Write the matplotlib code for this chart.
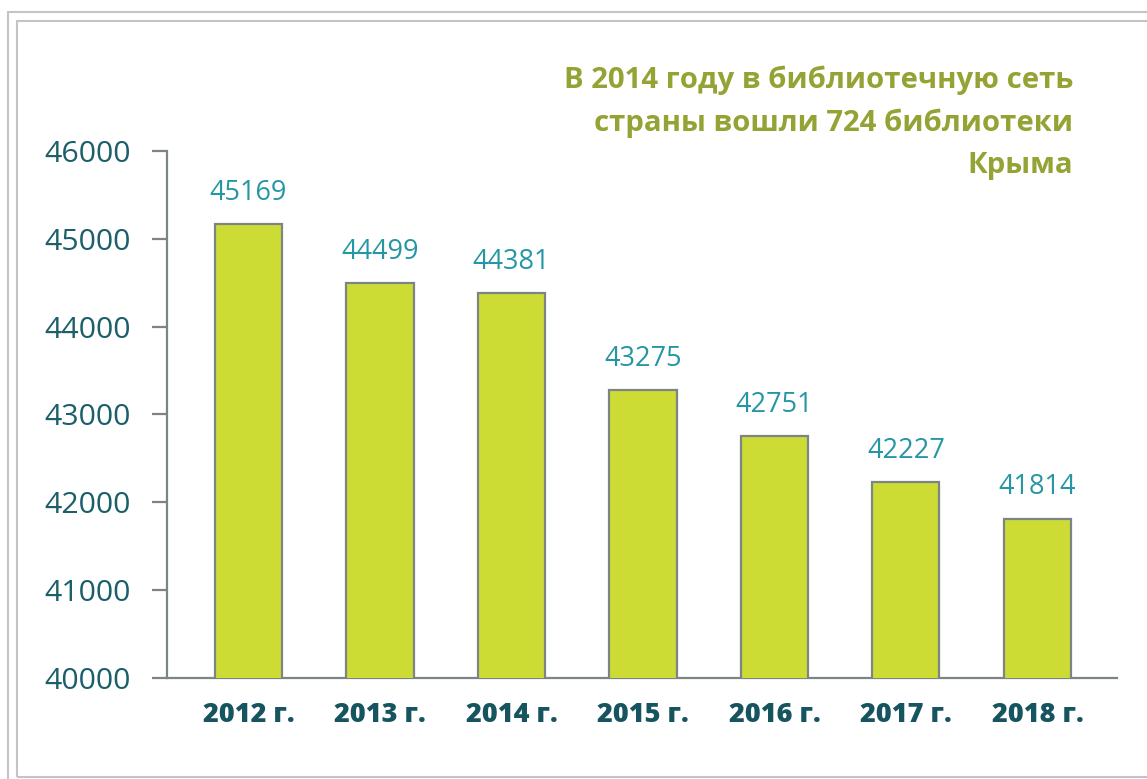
import matplotlib
matplotlib.use("Agg")
import matplotlib.pyplot as plt
from matplotlib.patches import Rectangle

categories = ["2012 г.", "2013 г.", "2014 г.", "2015 г.", "2016 г.", "2017 г.", "2018 г."]
values = [45169, 44499, 44381, 43275, 42751, 42227, 41814]
yticks = [40000, 41000, 42000, 43000, 44000, 45000, 46000]
title_text = "В 2014 году в библиотечную сеть\nстраны вошли 724 библиотеки\nКрыма"

plt.rcParams['font.family'] = ['Open Sans', 'DejaVu Sans']

W, H = 1147, 779
fig = plt.figure(figsize=(W / 100, H / 100), dpi=100)
fig.patch.set_facecolor("white")

# double frame
border_col = "#c2c4c6"
fig.patches.append(Rectangle((8 / W, -0.05), 1.2, 1 - 12 / H + 0.05, transform=fig.transFigure,
                             fill=False, edgecolor=border_col, linewidth=1.5))
fig.patches.append(Rectangle((17 / W, 2 / H), 1.2, 1 - 21 / H - 2 / H, transform=fig.transFigure,
                             fill=False, edgecolor=border_col, linewidth=1.5))

ax = fig.add_axes([167 / W, 1 - 678 / H, (1117 - 167) / W, (678 - 151) / H])
x = list(range(len(categories)))
axis_col = "#7d8486"
ax.bar(x, values, width=0.51, bottom=0, color="#cddc35", edgecolor=axis_col, linewidth=1.6, zorder=3)
ax.set_ylim(40000, 46000)
ax.set_xlim(-0.62, 6.605)

for s in ["top", "right"]:
    ax.spines[s].set_visible(False)
for s in ["left", "bottom"]:
    ax.spines[s].set_color(axis_col)
    ax.spines[s].set_linewidth(1.6)

ax.set_yticks(yticks)
ax.set_yticklabels([str(v) for v in yticks])
ax.tick_params(axis="y", direction="out", length=11, width=1.6, color=axis_col,
               labelsize=21.8, labelcolor="#1b5f69", pad=15)
ax.set_xticks(x)
ax.set_xticklabels(categories, fontweight=800)
ax.tick_params(axis="x", length=0, labelsize=19.5, labelcolor="#16545f", pad=17)

for xi, v in zip(x, values):
    ax.annotate(str(v), (xi, v), xytext=(0, 22.5), textcoords="offset points",
                ha="center", va="center", fontsize=19.5, color="#2596a3")

fig.text(1073 / W, 1 - 66 / H, title_text, ha="right", va="top", fontsize=21.2,
         fontweight="bold", color="#94a334", linespacing=1.58)

fig.savefig("out.png", dpi=100, facecolor="white")
